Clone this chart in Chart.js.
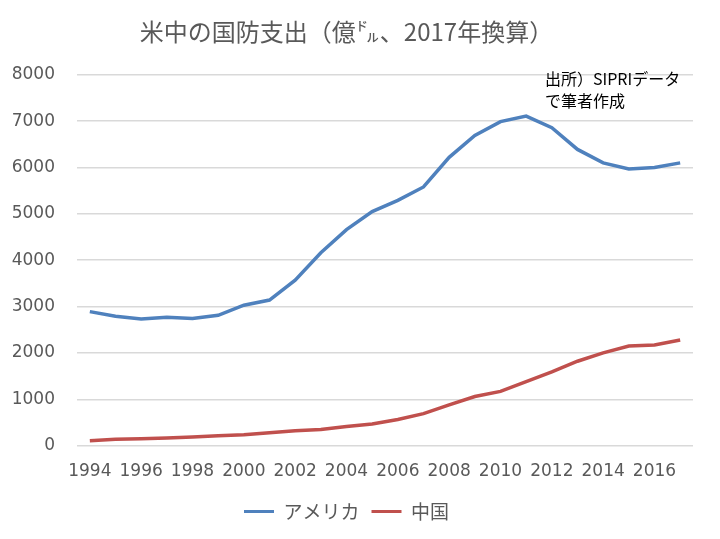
<!DOCTYPE html>
<html lang="ja">
<head>
<meta charset="UTF-8">
<title>米中の国防支出</title>
<script src="https://cdn.jsdelivr.net/npm/chart.js"></script>
<style>
    html, body { margin: 0; padding: 0; background: #fff; }
    #wrap { width: 720px; height: 539px; }
</style>
</head>
<body>
<div id="wrap"><canvas id="chart"></canvas></div>
<script>
// years 1994-2017
const years = ['1994','1995','1996','1997','1998','1999','2000','2001','2002','2003','2004','2005',
               '2006','2007','2008','2009','2010','2011','2012','2013','2014','2015','2016','2017'];
// 億ドル, 2017年換算
const usa = [2890, 2790, 2730, 2770, 2740, 2810, 3030, 3140, 3570, 4160, 4660, 5050,
             5290, 5580, 6220, 6690, 6990, 7110, 6860, 6390, 6100, 5970, 6000, 6100];
const china = [105, 135, 150, 165, 185, 210, 235, 275, 320, 345, 410, 465,
               565, 690, 880, 1060, 1170, 1380, 1590, 1820, 2000, 2150, 2170, 2280];
const yTicks = [0, 1000, 2000, 3000, 4000, 5000, 6000, 7000, 8000];

const grey = '#595959';

// source note in the upper right
const notePlugin = {
    id: 'note',
    afterDraw(chart) {
        const ctx = chart.ctx;
        ctx.save();
        ctx.fillStyle = '#000';
        ctx.font = '16px "Noto Sans CJK JP"';
        ctx.textBaseline = 'middle';
        ctx.fillText('出所）SIPRIデータ', 545, 79);
        ctx.fillText('で筆者作成', 545, 101);
        ctx.restore();
    }
};

new Chart(document.getElementById('chart'), {
    type: 'line',
    data: {
        labels: years,
        datasets: [
            { label: 'アメリカ', data: usa, borderColor: '#4F81BD', backgroundColor: '#4F81BD',
              borderWidth: 3.5, pointRadius: 0, tension: 0 },
            { label: '中国', data: china, borderColor: '#C0504D', backgroundColor: '#C0504D',
              borderWidth: 3.5, pointRadius: 0, tension: 0 }
        ]
    },
    options: {
        responsive: true,
        maintainAspectRatio: false,
        animation: false,
        layout: { padding: { left: 0, right: 27, top: 0, bottom: 8 } },
        plugins: {
            title: {
                display: true,
                text: '米中の国防支出（億㌦、2017年換算）',
                color: grey,
                font: { family: '"Noto Sans CJK JP"', size: 24, weight: 'normal' },
                padding: { top: 17, bottom: 29 }
            },
            legend: {
                position: 'bottom',
                labels: {
                    color: grey,
                    font: { family: '"Noto Sans CJK JP"', size: 19 },
                    boxWidth: 30,
                    boxHeight: 3,
                    padding: 12,
                    generateLabels(chart) {
                        return chart.data.datasets.map((d, i) => ({
                            text: d.label, fillStyle: d.borderColor, strokeStyle: d.borderColor,
                            lineWidth: 0, fontColor: grey, datasetIndex: i
                        }));
                    }
                }
            },
            tooltip: { enabled: false }
        },
        scales: {
            x: {
                offset: true,
                grid: { display: false },
                border: { display: false },
                ticks: {
                    color: grey,
                    font: { family: '"DejaVu Sans"', size: 17 },
                    autoSkip: false,
                    maxRotation: 0,
                    padding: 8,
                    callback(v, i) { return i % 2 === 0 ? years[i] : ''; }
                }
            },
            y: {
                min: 0,
                max: 8000,
                afterFit(s) { s.width = 77; },
                afterBuildTicks(s) { s.ticks = yTicks.map(v => ({ value: v })); },
                grid: { color: '#d9d9d9', lineWidth: 1.5, drawTicks: false },
                border: { display: false },
                ticks: {
                    color: grey,
                    font: { family: '"DejaVu Sans"', size: 17 },
                    padding: 22,
                    callback(v) { return String(v); }
                }
            }
        }
    },
    plugins: [notePlugin]
});
</script>
</body>
</html>
